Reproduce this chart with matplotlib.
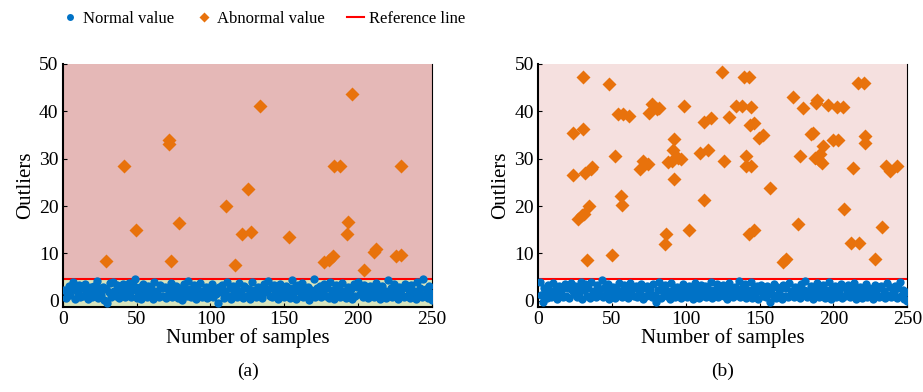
import numpy as np
import matplotlib.pyplot as plt
from matplotlib.lines import Line2D

plt.rcParams['font.family'] = ['Liberation Serif', 'DejaVu Serif']

# reference threshold
ref_level = 4.6

# normal samples, x = 1..250
normal_a = [
    2.3, 0.6, 1.9, 3.1, 1.2, 2.7, 3.9, 0.4, 2.2, 1.6, 3.4, 0.9, 2.8, 1.1, 3.6, 2.0, 0.3, 1.5, 2.9, 0.8, 3.2, 1.9, 4.1, 0.5, 2.6,
    1.3, 3.0, 0.2, 2.4, -0.4, 1.8, 3.7, 0.7, 4.0, 2.1, 1.0, 3.3, 0.6, 2.5, 1.7, 3.5, 0.9, 2.7, 1.4, 3.8, 0.8, 2.2, 3.1, 4.6, 0.5,
    1.6, 2.9, 0.4, 3.6, 1.2, 2.3, 0.7, 3.1, 1.9, 2.6, 0.3, 3.9, 1.5, 2.0, 0.8, 3.4, 2.7, 1.1, 3.0, 0.6, 2.4, 1.8, 3.7, 0.9, 2.2,
    1.4, 3.2, 0.5, 2.8, 1.7, 0.2, 3.5, 2.1, 1.0, 4.2, 2.5, 0.7, 1.9, 3.3, 0.4, 2.6, 1.3, 3.8, 0.9, 2.0, 1.6, 3.0, 0.6, 2.7, 1.2,
    3.6, 0.8, 2.3, 1.5, -0.5, 2.9, 1.8, 3.4, 0.5, 2.1, 4.0, 1.1, 2.6, 0.3, 3.1, 1.7, 2.4, 0.9, 3.7, 1.4, 2.0, 0.6, 3.2, 2.8, 1.0,
    2.5, 0.4, 3.9, 1.6, 2.2, 0.8, 3.0, 1.3, 2.7, 0.5, 3.5, 1.9, 2.3, 4.1, 1.1, 2.8, 0.7, 3.3, 1.5, 2.0, 0.3, 3.6, 1.8, 2.4, 0.9,
    3.1, 1.2, 2.6, 0.6, 4.4, 1.7, 2.9, 0.4, 3.4, 2.1, 1.0, 3.8, 0.8, 2.5, 1.4, 3.0, 0.2, 2.2, 1.6, 4.5, 0.9, 2.7, 1.3, 3.2, 0.7,
    2.0, 3.5, 1.1, 2.8, 0.5, 3.9, 1.8, 2.3, 0.3, 3.3, 1.5, 2.6, 0.8, 3.7, 1.2, 2.1, 0.6, 3.0, 1.9, 2.4, 0.4, 3.6, 1.0, 2.9, 4.0,
    1.4, 2.7, 0.7, 3.4, 1.7, 2.2, 0.5, 3.1, 1.3, 2.8, 0.9, 3.8, 1.6, 2.5, 0.3, 3.2, 1.1, 2.0, 0.6, 4.3, 1.8, 2.6, 0.8, 3.5, 1.2,
    2.3, 0.4, 3.0, 1.5, 2.7, 0.9, 3.6, 1.0, 2.4, 0.6, 3.3, 1.9, 2.1, 0.3, 3.9, 1.4, 2.8, 0.7, 4.5, 1.2, 2.5, 0.5, 3.1, 1.7, 0.2,
]
normal_b = [
    3.9, 1.2, -0.3, 2.6, 1.8, 0.6, 3.4, 2.1, 0.9, 3.7, 1.5, 2.9, 0.4, 3.2, 1.9, 2.4, 0.8, 3.6, 1.1, 2.7, 0.5, 3.8, 2.2, 1.4, 3.1,
    0.7, 2.8, 1.6, 4.0, 0.3, 2.3, 3.5, 1.0, 2.6, 0.6, 3.9, 1.7, 2.1, 0.9, 3.3, 1.3, 2.5, 4.3, 0.8, 2.9, 1.5, 3.6, 0.4, 2.2, 1.9,
    3.0, 0.6, 2.7, 1.2, 3.8, 2.0, 0.9, 3.4, 1.6, 2.4, 0.5, 3.7, 1.8, 2.8, 1.1, 3.2, 0.7, 2.3, 1.4, 3.5, 0.3, 2.6, 1.0, 3.1, 1.7,
    2.5, 0.8, 3.6, 1.3, -0.2, 2.2, 3.9, 0.6, 2.9, 1.5, 3.3, 1.0, 2.1, 0.4, 3.7, 1.8, 2.6, 0.9, 3.0, 1.2, 2.4, 0.5, 3.5, 1.6, 2.8,
    0.7, 3.2, 1.9, 2.3, 0.3, 3.8, 1.4, 2.7, 0.6, 3.4, 2.0, 1.1, 3.1, 0.8, 2.5, 1.7, 4.0, 0.5, 2.2, 1.3, 3.6, 0.9, 2.9, 1.6, 3.3,
    1.0, 2.4, 0.4, 3.7, 1.8, 2.6, 0.7, 3.0, 1.5, 2.1, 4.2, 0.9, 2.8, 1.2, 3.5, 0.5, 2.3, 1.7, 3.9, 0.6, 2.7, 1.4, 3.2, 0.3, 2.0,
    3.4, 1.1, 2.5, 0.8, 3.1, 1.9, -0.3, 2.2, 1.3, 3.6, 0.6, 2.9, 1.6, 2.4, 0.4, 3.3, 1.0, 2.6, 0.7, 3.8, 1.5, 2.1, 0.9, 3.0, 1.8,
    2.7, 0.5, 3.5, 1.2, 2.3, 4.1, 0.8, 2.0, 1.6, 3.2, 0.3, 2.8, 1.4, 3.7, 0.9, 2.5, 1.1, 3.4, 0.6, 2.2, 1.7, 3.9, 0.4, 2.6, 1.3,
    3.1, 0.7, 2.4, 1.8, 3.6, 0.5, 2.9, 1.0, 2.1, 3.3, 0.8, 2.7, 1.5, 3.8, 0.3, 2.3, 1.2, 3.0, 0.6, 2.5, 1.9, 3.5, 0.9, 2.8, 1.4,
    2.2, 0.4, 3.4, 1.6, 2.6, 0.7, 3.1, 1.1, 2.0, 0.5, 3.7, 1.3, 2.9, 0.8, 2.4, 1.7, 3.2, 0.6, 2.7, 3.9, 1.0, 2.3, 0.4, 1.8, -0.1,
]

# abnormal samples (a)
abn_a_x = [29.4, 41.5, 49.7, 71.6, 72.0, 73.6, 79.0, 110.6, 116.5, 121.7, 125.1, 127.4, 133.4, 153.3,
           176.6, 180.6, 182.9, 183.8, 187.9, 192.4, 193.3, 195.8, 203.7, 210.9, 211.8, 225.6, 229.2, 229.0]
abn_a_y = [8.4, 28.4, 14.9, 33.0, 33.9, 8.5, 16.4, 20.1, 7.6, 14.1, 23.5, 14.6, 41.1, 13.5,
           8.2, 8.7, 9.4, 28.4, 28.5, 14.1, 16.6, 43.6, 6.5, 10.3, 10.9, 9.5, 9.6, 28.5]

# abnormal samples (b)
abn_b_x = [30.1, 23.5, 30.5, 23.5, 31.9, 35.5, 36.4, 26.7, 29.6, 31.0, 34.6, 33.3, 47.7, 52.0, 49.8,
           54.3, 57.7, 61.5, 55.9, 57.0, 75.3, 77.3, 80.3, 82.1, 69.2, 71.2, 74.6, 86.0, 86.4, 87.8,
           91.2, 92.3, 92.3, 90.7, 95.0, 96.8, 98.9, 102.5, 109.7, 112.2, 112.6, 114.9, 117.4, 124.6,
           126.2, 129.2, 133.9, 138.4, 139.1, 142.7, 140.9, 140.9, 142.7, 144.1, 143.6, 146.4, 144.3,
           146.4, 149.5, 152.2, 156.8, 165.6, 168.1, 172.4, 177.1, 176.2, 179.4, 184.8, 185.9, 187.3,
           188.2, 188.9, 190.0, 191.1, 192.3, 192.9, 196.1, 199.7, 203.1, 202.4, 206.5, 207.0, 213.3,
           212.2, 217.6, 216.7, 220.5, 221.2, 221.2, 228.0, 233.0, 235.8, 238.6, 242.7]
abn_b_y = [47.2, 35.4, 36.2, 26.6, 27.0, 27.9, 28.2, 17.2, 18.2, 18.4, 19.9, 8.7, 45.7, 30.5, 9.6,
           39.4, 39.4, 39.1, 22.2, 20.2, 39.7, 41.5, 40.4, 40.6, 27.8, 29.6, 28.9, 12.0, 14.2, 29.2,
           31.9, 34.2, 25.8, 29.6, 30.1, 29.9, 41.1, 14.9, 31.1, 21.2, 37.8, 31.9, 38.5, 48.2,
           29.4, 38.7, 41.1, 41.1, 47.2, 47.2, 30.5, 28.4, 14.2, 41.0, 37.2, 37.6, 28.4,
           14.9, 34.4, 34.9, 23.7, 8.1, 8.8, 43.1, 30.5, 16.3, 40.6, 35.1, 35.5, 30.1,
           41.8, 42.4, 29.8, 30.9, 29.1, 32.6, 41.3, 34.0, 34.0, 40.8, 40.8, 19.3, 28.0,
           12.1, 12.1, 46.0, 46.0, 34.8, 33.3, 8.9, 15.6, 28.4, 27.3, 28.4]

blue = '#0072C6'
orange = '#E8720C'

fig = plt.figure(figsize=(9.23, 3.92), dpi=100)
ax_a = fig.add_axes([0.068, 0.217, 0.400, 0.620])
ax_b = fig.add_axes([0.583, 0.217, 0.400, 0.620])

panels = [
    (ax_a, normal_a, abn_a_x, abn_a_y, '#E5B8B7', '#D8E4BC', '(a)', 0.269),
    (ax_b, normal_b, abn_b_x, abn_b_y, '#F5E0DF', 'white', '(b)', 0.783),
]

for ax, norm, ax_x, ax_y, top_c, low_c, tag, tag_x in panels:
    xs = np.arange(1, len(norm) + 1)
    ax.set_xlim(0, 250)
    ax.set_ylim(-1.3, 50)
    ax.axhspan(ref_level, 50, color=top_c, zorder=0, lw=0)
    ax.axhspan(-1.3, ref_level, color=low_c, zorder=0, lw=0)
    ax.axhline(ref_level, color='red', lw=1.5, zorder=2)
    ax.plot(xs, norm, 'o', color=blue, ms=6, mec='none', zorder=3)
    ax.plot(ax_x, ax_y, 'D', color=orange, ms=7, mec='none', zorder=4)
    ax.set_xticks([0, 50, 100, 150, 200, 250])
    ax.set_yticks([0, 10, 20, 30, 40, 50])
    ax.tick_params(direction='in', length=3, labelsize=14, pad=3)
    ax.set_xlabel('Number of samples', fontsize=15, labelpad=0)
    ax.set_ylabel('Outliers', fontsize=15, labelpad=3)
    ax.spines['left'].set_linewidth(1.5)
    ax.spines['bottom'].set_linewidth(1.5)
    ax.spines['right'].set_linewidth(0.8)
    ax.spines['top'].set_visible(False)
    fig.text(tag_x, 0.03, tag, fontsize=14, ha='center', va='bottom')

handles = [
    Line2D([], [], marker='o', ls='none', color=blue, ms=5, mec='none'),
    Line2D([], [], marker='D', ls='none', color=orange, ms=5, mec='none'),
    Line2D([], [], color='red', lw=1.5),
]
fig.legend(handles, ['Normal value', 'Abnormal value', 'Reference line'],
           loc='upper center', bbox_to_anchor=(0.285, 1.01), ncol=3, frameon=False,
           fontsize=12, handlelength=1.0, handletextpad=0.3, columnspacing=1.3)

fig.savefig('out.png', dpi=100)
